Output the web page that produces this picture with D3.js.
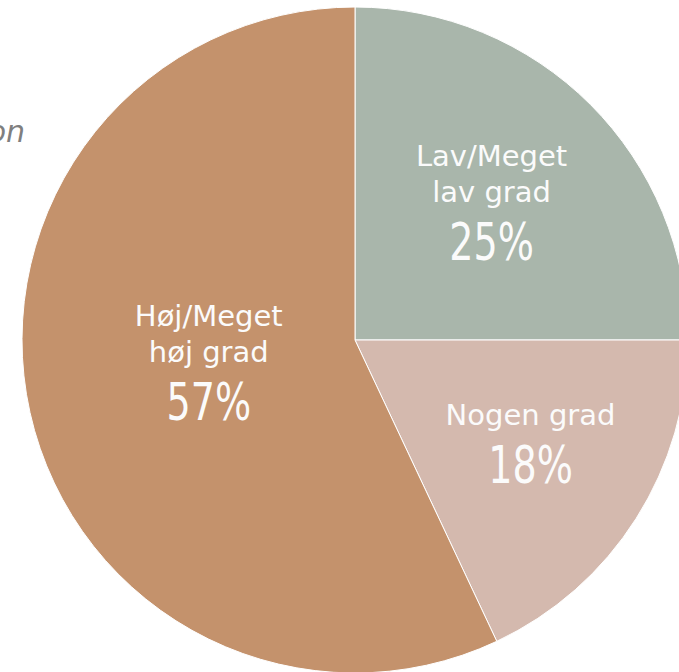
<!DOCTYPE html>
<html>
<head>
<meta charset="utf-8">
<script src="https://cdn.jsdelivr.net/npm/d3@7"></script>
<style>
  html, body { margin: 0; padding: 0; background: #fff; overflow: hidden; }
  svg { display: block; }
</style>
</head>
<body>
<div id="chart"></div>
<script>
// data
const categories = ["Lav/Meget lav grad", "Nogen grad", "Høj/Meget høj grad"];
const labelLines = [["Lav/Meget", "lav grad"], ["Nogen grad"], ["Høj/Meget", "høj grad"]];
const values = [25, 18, 57];
const colors = ["#a9b6ab", "#d4b9ae", "#c4926c"];

const width = 679, height = 672;
const cx = 355, cy = 340, radius = 333;

const svg = d3.select("#chart").append("svg")
    .attr("width", width)
    .attr("height", height);

// clipped title fragment at the far left
svg.append("text")
    .attr("x", 25)
    .attr("y", 142)
    .attr("text-anchor", "end")
    .attr("font-family", "DejaVu Sans, sans-serif")
    .attr("font-style", "italic")
    .attr("font-size", 30)
    .attr("fill", "#7f7f7f")
    .text("on");

const pie = d3.pie().sort(null).value(d => d);
const arcs = pie(values);
const arc = d3.arc().innerRadius(0).outerRadius(radius);

const g = svg.append("g").attr("transform", `translate(${cx},${cy})`);

g.selectAll("path")
    .data(arcs)
    .enter()
    .append("path")
    .attr("d", arc)
    .attr("fill", (d, i) => colors[i])
    .attr("stroke", "#ffffff")
    .attr("stroke-width", 1);

// label anchor: fraction of radius along slice bisector, plus small nudge
const labelRadius = [0.58, 0.61, 0.45];
const labelNudgeX = [0, 4, 0];
const labelNudgeY = [0, -5, -10];
const lineH = 36, numGap = 58;

const labels = g.selectAll("g.lbl")
    .data(arcs)
    .enter()
    .append("g")
    .attr("class", "lbl")
    .attr("transform", (d, i) => {
        const r = radius * labelRadius[i];
        const c = d3.arc().innerRadius(r).outerRadius(r).centroid(d);
        return `translate(${c[0] + labelNudgeX[i]},${c[1] + labelNudgeY[i]})`;
    });

labels.each(function (d, i) {
    const sel = d3.select(this);
    const lines = labelLines[i];
    // block spans from cap top of first line to number baseline
    const blockH = 20 + (lines.length - 1) * lineH + numGap;
    const y0 = -blockH / 2 + 20;
    lines.forEach((ln, k) => {
        sel.append("text")
            .attr("x", 0)
            .attr("y", y0 + k * lineH)
            .attr("text-anchor", "middle")
            .attr("font-family", "DejaVu Sans, sans-serif")
            .attr("font-size", 29)
            .attr("fill", "#fbfbfb")
            .text(ln);
    });
    sel.append("text")
        .attr("transform", `translate(0,${y0 + (lines.length - 1) * lineH + numGap}) scale(0.83,1)`)
        .attr("text-anchor", "middle")
        .attr("font-family", "DejaVu Sans Condensed, DejaVu Sans, sans-serif")
        .attr("font-size", 51)
        .attr("fill", "#fbfbfb")
        .text(values[i] + "%");
});
</script>
</body>
</html>
